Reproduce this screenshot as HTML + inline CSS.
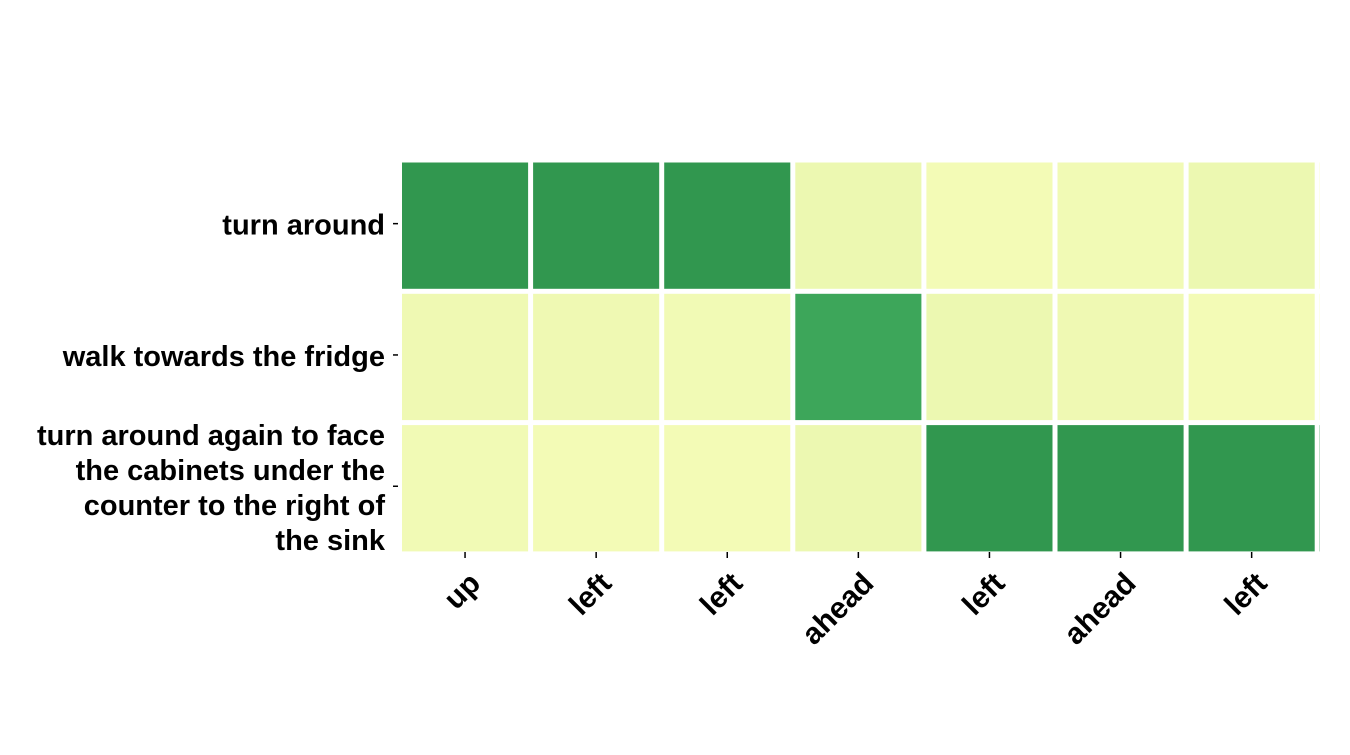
<!DOCTYPE html>
<html><head><meta charset="utf-8"><style>
html,body{margin:0;padding:0;background:#fff;}
svg text{font-family:"Liberation Sans",sans-serif;font-weight:bold;fill:#000;}
</style></head><body>
<svg id="chart" width="1350" height="750" xmlns="http://www.w3.org/2000/svg">
<defs><clipPath id="clip"><rect x="401" y="150" width="919" height="410"/></clipPath></defs>
<g id="cells" clip-path="url(#clip)"></g>
<g id="yaxis"></g>
<g id="xaxis"></g>
</svg>
<script>
const rowLabels = [["turn around"],["walk towards the fridge"],["turn around again to face","the cabinets under the","counter to the right of","the sink"]];
const colLabels = ["up","left","left","ahead","left","ahead","left","ahead"];
const row1 = [0.69,0.69,0.69,0.17,0.14,0.15,0.17,0.14];
const row2 = [0.16,0.16,0.15,0.64,0.17,0.16,0.14,0.14];
const row3 = [0.15,0.14,0.14,0.17,0.69,0.69,0.69,0.69];
const values = [row1,row2,row3];

const NS="http://www.w3.org/2000/svg";
const x0=401.5, colStep=131.1, y0=160, rowStep=131.3, gap=5;
function xPos(i){return x0+i*colStep;}
function yPos(j){return y0+j*rowStep;}
const stops=[[0,"#ffffe5"],[0.125,"#f7fcb9"],[0.25,"#d9f0a3"],[0.375,"#addd8e"],[0.5,"#78c679"],[0.625,"#41ab5d"],[0.75,"#238443"],[0.875,"#006837"],[1,"#004529"]];
function hex(h){return [1,3,5].map(k=>parseInt(h.substr(k,2),16));}
function color(v){
  for(let k=0;k<stops.length-1;k++){
    if(v<=stops[k+1][0]){const t=(v-stops[k][0])/(stops[k+1][0]-stops[k][0]);
      const a=hex(stops[k][1]),b=hex(stops[k+1][1]);
      return "rgb("+a.map((c,i)=>Math.round(c+(b[i]-c)*t)).join(",")+")";}
  }
  return stops[stops.length-1][1];
}
function mk(tag,attrs,parent){const e=document.createElementNS(NS,tag);for(const k in attrs)e.setAttribute(k,attrs[k]);parent.appendChild(e);return e;}
const cells=document.getElementById("cells");
values.forEach((row,j)=>row.forEach((v,i)=>{
  const r=mk("rect",{x:xPos(i)+0.5,y:yPos(j)+gap/2,width:colStep-gap,height:rowStep-gap,fill:color(v)},cells);
  
  
}));
const ya=document.getElementById("yaxis");
rowLabels.forEach((lines,j)=>{
  const cy=yPos(j)+rowStep/2-2;
  const t=mk("line",{x1:393,x2:398,y1:cy,y2:cy,stroke:"#000","stroke-width":1.5},ya);
  
  
  const n=lines.length, lh=35;
  lines.forEach((s,k)=>{
    const tx=mk("text",{x:385,y:cy+11+(k-(n-1)/2)*lh,"text-anchor":"end","font-size":29},ya);
    tx.textContent=s;
    
    
  });
});
const xa=document.getElementById("xaxis");
colLabels.slice(0,7).forEach((s,i)=>{
  const cx=xPos(i)+colStep/2-2;
  const t=mk("line",{x1:cx,x2:cx,y1:552,y2:558,stroke:"#000","stroke-width":1.5},xa);
  
  
  const ax=cx+17, ay=585;
  const tx=mk("text",{x:ax,y:ay,"text-anchor":"end","font-size":30,transform:"rotate(-45 "+ax+" "+ay+")"},xa);
  tx.textContent=s;
  
  
});
</script>
</body></html>
